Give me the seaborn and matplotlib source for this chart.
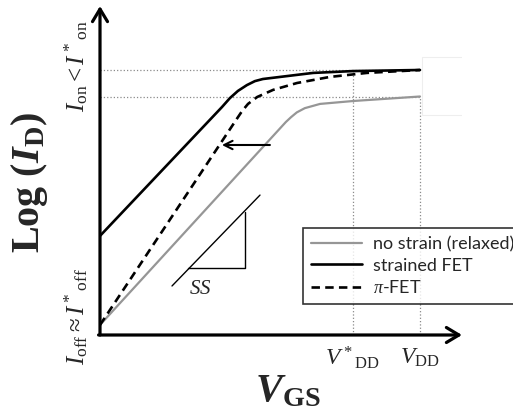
import matplotlib
matplotlib.use('Agg')
import matplotlib.pyplot as plt
import seaborn as sns
from matplotlib.patches import Rectangle

# schematic units: V_GS normalised to V_DD = 1, log(I_D) in "decades"
vdd = 1.0
vdd_star = 0.79
ion = 9.0
ion_star = 10.0
ioff = 0.38

relaxed_v = [0, 0.581, 0.597, 0.615, 0.640, 0.6875, 0.791, 1.0]
relaxed_i = [0.38, 8.04, 8.22, 8.40, 8.56, 8.72, 8.83, 9.0]

strained_v = [0, 0.381, 0.406, 0.431, 0.459, 0.484, 0.509, 0.584, 0.666, 0.791, 1.0]
strained_i = [3.74, 8.60, 8.94, 9.21, 9.43, 9.58, 9.66, 9.77, 9.89, 9.96, 10.0]

pifet_v = [0, 0.425, 0.444, 0.4625, 0.491, 0.541, 0.616, 0.719, 0.834, 1.0]
pifet_i = [0.38, 8.11, 8.45, 8.72, 8.98, 9.25, 9.51, 9.74, 9.89, 10.0]

ss_line_v = [0.225, 0.5]
ss_line_i = [1.85, 5.28]
ss_tri_v = [0.275, 0.453, 0.453]
ss_tri_i = [2.53, 2.53, 4.64]

shift_from = (0.531, 7.17)
shift_to = (0.381, 7.17)

sns.set_style('white')
plt.rcParams['mathtext.fontset'] = 'custom'
plt.rcParams['mathtext.rm'] = 'Liberation Serif'
plt.rcParams['mathtext.it'] = 'Liberation Serif:italic'
plt.rcParams['mathtext.bf'] = 'Liberation Serif:bold'
plt.rcParams['mathtext.bfit'] = 'Liberation Serif:bold:italic'

fig = plt.figure(figsize=(5.13, 4.16), dpi=100)
ax = fig.add_axes([100 / 513, 81 / 416, 362 / 513, 329 / 416])
ax.set_xlim(0, 362 / 320)
ax.set_ylim(0, 329 / 26.5)

# reference guides
ax.plot([0, vdd], [ion_star, ion_star], ls=':', color='#8a8a8a', lw=0.9)
ax.plot([0, vdd], [ion, ion], ls=':', color='#8a8a8a', lw=0.9)
ax.plot([vdd_star, vdd_star], [0, ion_star], ls=':', color='#8a8a8a', lw=0.9)
ax.plot([vdd, vdd], [0, ion], ls=':', color='#8a8a8a', lw=0.9)
ax.add_patch(Rectangle((1.006, 8.3), 0.128, 2.19, fill=False, ec='#eeeeee', lw=0.8))

sns.lineplot(x=relaxed_v, y=relaxed_i, ax=ax, color='#969696', lw=1.6,
             sort=False, estimator=None, label='no strain (relaxed)')
sns.lineplot(x=strained_v, y=strained_i, ax=ax, color='black', lw=1.9,
             sort=False, estimator=None, label='strained FET')
sns.lineplot(x=pifet_v, y=pifet_i, ax=ax, color='black', lw=1.9,
             sort=False, estimator=None, label=r'$\pi$-FET')
ax.lines[-1].set_dashes([3.2, 2.0])

# subthreshold slope triangle
ax.plot(ss_line_v, ss_line_i, color='black', lw=1.0)
ax.plot(ss_tri_v, ss_tri_i, color='black', lw=1.0)
ax.text(0.3125, 1.77, r'$SS$', fontsize=15, ha='center', va='center')

ax.annotate('', xy=shift_to, xytext=shift_from,
            arrowprops=dict(arrowstyle='->,head_length=0.6,head_width=0.3',
                            lw=1.5, color='black', shrinkA=0, shrinkB=0))

# axes as arrows
for spine in ax.spines.values():
    spine.set_visible(False)
arr = dict(arrowstyle='->,head_length=0.75,head_width=0.45', lw=2.3,
           color='black', shrinkA=0, shrinkB=0, mutation_scale=12)
ax.annotate('', xy=(0, 1), xytext=(0, 0), xycoords='axes fraction', arrowprops=arr)
ax.annotate('', xy=(1, 0), xytext=(-0.004, 0), xycoords='axes fraction', arrowprops=arr)

ax.set_xticks([vdd_star, vdd])
ax.set_xticklabels([r'$V^*{}_{\mathrm{DD}}$', r'$V_{\mathrm{DD}}$'], fontsize=17)
ax.set_yticks([0.72, 10.15])
ax.set_yticklabels([r'$I_{\mathrm{off}} \approx I^*{}_{\mathrm{off}}$',
                    r'$I_{\mathrm{on}} < I^*{}_{\mathrm{on}}$'],
                   fontsize=18, rotation=90, va='center')
ax.tick_params(length=0, pad=7)

fig.text(30 / 513, 1 - 182 / 416, r'$\mathbf{Log\ (}\mathbfit{I}_{\mathbf{D}}\mathbf{)}$',
         fontsize=29, rotation=90, ha='center', va='center')
fig.text(288 / 513, 1 - 390 / 416, r'$\mathbfit{V}_{\mathbf{GS}}$',
         fontsize=29, ha='center', va='center')

leg = ax.legend(loc='upper left', bbox_to_anchor=(303 / 513, 1 - 228 / 416),
                bbox_transform=fig.transFigure, frameon=True, fancybox=False,
                edgecolor='black', prop={'family': 'Lato', 'size': 13},
                handlelength=2.8, handletextpad=0.6, labelspacing=0.3,
                borderpad=0.45, borderaxespad=0)
leg.get_frame().set_linewidth(1.2)

fig.savefig('out.png', dpi=100)
